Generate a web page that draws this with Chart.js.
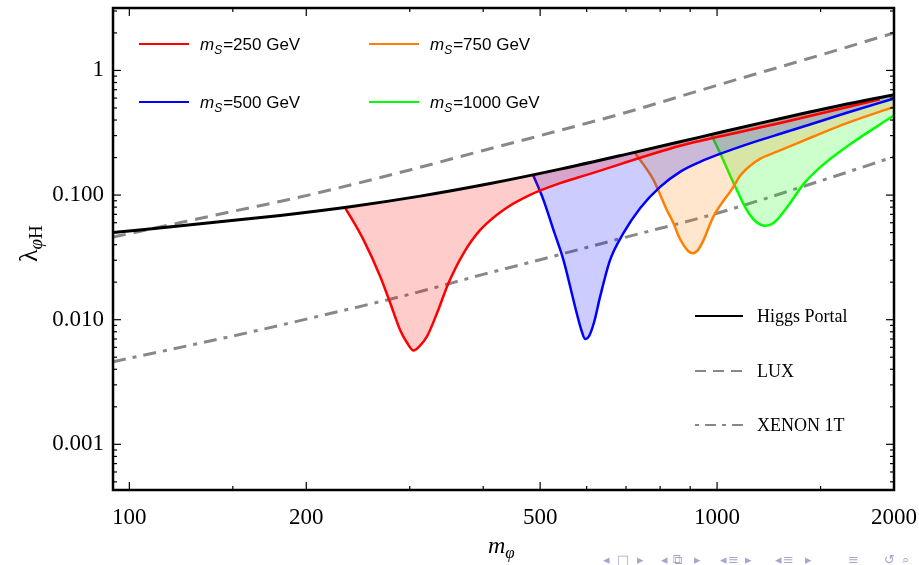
<!DOCTYPE html>
<html>
<head>
<meta charset="utf-8">
<script src="https://cdn.jsdelivr.net/npm/chart.js@4.4.0/dist/chart.umd.min.js"></script>
<style>
  html, body { margin: 0; padding: 0; background: #fff; }
</style>
</head>
<body>
<canvas id="plot" width="919" height="565"></canvas>
<script>
// Higgs portal line
var higgsMass   = [93.8, 132.1, 180.6, 237.6, 312.6, 411.1, 540.8, 711.3, 935.6, 1230.8, 1619, 2000];
var higgsLambda = [0.050, 0.0588, 0.0687, 0.0807, 0.0981, 0.1238, 0.1615, 0.2161, 0.2918, 0.3939, 0.5237, 0.6395];

// direct detection limits
var luxMass     = [93.8, 150, 200, 300, 400, 500, 700, 1000, 1500, 2000];
var luxLambda   = [0.046, 0.074, 0.099, 0.159, 0.228, 0.30, 0.46, 0.76, 1.33, 2.0];
var xenonMass   = [93.8, 150, 200, 300, 400, 500, 700, 1000, 1500, 2000];
var xenonLambda = [0.0046, 0.0074, 0.0101, 0.0160, 0.0231, 0.0303, 0.046, 0.0715, 0.13, 0.203];

// relic density curves, one per m_S
var ms250Mass   = [233, 250.3, 267.3, 277.9, 289, 297, 304.5, 311.3, 320.8, 333.7, 349.1, 370.3, 395.4, 433, 480.8, 540.8, 600.3, 865, 935, 1314, 1893];
var ms250Lambda = [0.079, 0.0437, 0.02215, 0.01362, 0.00822, 0.0065, 0.00566, 0.00609, 0.0073, 0.01125, 0.0196, 0.0341, 0.0525, 0.076, 0.1004, 0.1246, 0.1453, 0.2484, 0.272, 0.3894, 0.587];
var ms500Mass   = [487, 506.5, 526.7, 547.7, 569.6, 578.1, 587.2, 596.4, 605.8, 617.8, 632.4, 657.7, 692.8, 739.6, 800, 865, 935.6, 1012, 1137.9, 1314, 1663, 1995];
var ms500Lambda = [0.143, 0.0915, 0.0525, 0.0302, 0.0144, 0.01091, 0.00834, 0.0070, 0.0074, 0.00958, 0.0153, 0.0302, 0.0494, 0.0785, 0.1164, 0.1536, 0.1848, 0.2143, 0.2602, 0.3219, 0.4573, 0.593];
var ms750Mass   = [725.4, 779.3, 821.3, 843, 858.5, 876.5, 892.8, 909.4, 926.7, 947.9, 965.5, 985.6, 1067, 1094.3, 1137.9, 1183.4, 1230.8, 1279.7, 1459, 1663, 1995];
var ms750Lambda = [0.217, 0.1324, 0.076, 0.0595, 0.0479, 0.0398, 0.0356, 0.0341, 0.036, 0.0433, 0.0535, 0.0672, 0.117, 0.1426, 0.1716, 0.1953, 0.2123, 0.2286, 0.2951, 0.378, 0.508];
var ms1000Mass   = [979.5, 1012, 1067, 1123, 1151.3, 1178.7, 1206.7, 1235.6, 1264.9, 1295, 1331, 1402, 1497, 1663, 1995];
var ms1000Lambda = [0.30, 0.217, 0.1246, 0.076, 0.0644, 0.0587, 0.0568, 0.0582, 0.0632, 0.0726, 0.0861, 0.1219, 0.1669, 0.2453, 0.4327];

// ticks
var xTickLabels = [100, 200, 500, 1000, 2000];
var xMinorTicks = [150, 300, 400, 600, 700, 800, 900, 1500];
var yTickValues = [0.001, 0.01, 0.1, 1];
var yTickText   = ["0.001", "0.010", "0.100", "1"];

function pts(xs, ys) {
  return xs.map(function (v, i) { return { x: v, y: ys[i] }; });
}

var serif = "'Liberation Serif', 'Times New Roman', serif";
var sans = "'Liberation Sans', Arial, sans-serif";

function seg(ctx, x1, y1, x2, y2) {
  ctx.beginPath();
  ctx.moveTo(x1, y1);
  ctx.lineTo(x2, y2);
  ctx.stroke();
}

var decorations = {
  id: "decorations",
  afterDatasetsDraw: function (chart) {
    var ctx = chart.ctx, a = chart.chartArea, xs = chart.scales.x, ys = chart.scales.y;
    ctx.save();
    ctx.strokeStyle = "#000";
    ctx.lineWidth = 1.2;
    ctx.setLineDash([]);

    // inward ticks on all four sides
    xTickLabels.concat(xMinorTicks).forEach(function (v) {
      var px = xs.getPixelForValue(v);
      var len = xTickLabels.indexOf(v) >= 0 ? 8 : 4;
      seg(ctx, px, a.bottom, px, a.bottom - len);
      seg(ctx, px, a.top, px, a.top + len);
    });
    var yMinor = [];
    [0.0001, 0.001, 0.01, 0.1, 1].forEach(function (d) {
      for (var k = 2; k <= 9; k++) {
        var v = d * k;
        if (v > ys.min && v < ys.max) yMinor.push(v);
      }
    });
    yTickValues.concat(yMinor).forEach(function (v) {
      var py = ys.getPixelForValue(v);
      var len = yTickValues.indexOf(v) >= 0 ? 8 : 4;
      seg(ctx, a.left, py, a.left + len, py);
      seg(ctx, a.right, py, a.right - len, py);
    });

    // frame
    ctx.lineWidth = 2.5;
    ctx.strokeRect(a.left, a.top, a.right - a.left, a.bottom - a.top);

    // top legend: m_S curves
    var top = [
      { c: "#ff0000", t: "=250 GeV", x: 139, y: 44 },
      { c: "#ff8000", t: "=750 GeV", x: 369, y: 44 },
      { c: "#0000ff", t: "=500 GeV", x: 139, y: 102 },
      { c: "#00ff00", t: "=1000 GeV", x: 369, y: 102 }
    ];
    ctx.textBaseline = "alphabetic";
    ctx.textAlign = "left";
    top.forEach(function (e) {
      ctx.strokeStyle = e.c;
      ctx.lineWidth = 2;
      seg(ctx, e.x, e.y, e.x + 50, e.y);
      ctx.fillStyle = "#000";
      var tx = e.x + 61, by = e.y + 6;
      ctx.font = "italic 17px " + sans;
      ctx.fillText("m", tx, by);
      tx += ctx.measureText("m").width;
      ctx.font = "italic 12px " + sans;
      ctx.fillText("S", tx, by + 4);
      tx += ctx.measureText("S").width + 1;
      ctx.font = "17px " + sans;
      ctx.fillText(e.t, tx, by);
    });

    // bottom-right legend: limits
    var bottom = [
      { t: "Higgs Portal", c: "#000", w: 2, d: [], y: 316 },
      { t: "LUX", c: "#888", w: 2, d: [11, 7], y: 371 },
      { t: "XENON 1T", c: "#888", w: 2, d: [4, 6, 11, 6], y: 425 }
    ];
    bottom.forEach(function (e) {
      ctx.strokeStyle = e.c;
      ctx.lineWidth = e.w;
      ctx.setLineDash(e.d);
      seg(ctx, 695, e.y, 743, e.y);
      ctx.setLineDash([]);
      ctx.fillStyle = "#000";
      ctx.font = "18px " + serif;
      ctx.fillText(e.t, 757, e.y + 6);
    });

    // axis titles
    ctx.fillStyle = "#000";
    ctx.save();
    ctx.translate(37, 262);
    ctx.rotate(-Math.PI / 2);
    ctx.font = "26px " + serif;
    ctx.fillText("\u03bb", 0, 0);
    var w = ctx.measureText("\u03bb").width;
    ctx.font = "italic 19px " + serif;
    ctx.fillText("\u03c6", w, 5);
    w += ctx.measureText("\u03c6").width;
    ctx.font = "19px " + serif;
    ctx.fillText("H", w, 5);
    ctx.restore();

    ctx.font = "italic 24px " + serif;
    ctx.fillText("m", 488, 553);
    var mw = ctx.measureText("m").width;
    ctx.font = "italic 17px " + serif;
    ctx.fillText("\u03c6", 488 + mw, 558);

    // beamer navigation symbols
    var nav = [["\u25c2", 603], ["\u25a1", 617], ["\u25b8", 637], ["\u25c2", 661], ["\u29c9", 673], ["\u25b8", 694],
               ["\u25c2", 720], ["\u2261", 728], ["\u25b8", 745], ["\u25c2", 775], ["\u2261", 783], ["\u25b8", 805],
               ["\u2261", 848], ["\u21ba", 884], ["\u2315", 902]];
    ctx.fillStyle = "#a6a6cf";
    ctx.font = "13px 'DejaVu Sans', sans-serif";
    nav.forEach(function (n) { ctx.fillText(n[0], n[1], 564); });

    ctx.restore();
  }
};

function curve(label, xs, ys, color, fillColor) {
  return {
    label: label,
    data: pts(xs, ys),
    borderColor: color,
    backgroundColor: fillColor,
    borderWidth: 2.5,
    fill: fillColor ? 0 : false,
    cubicInterpolationMode: "monotone",
    pointRadius: 0
  };
}

var ctx = document.getElementById("plot").getContext("2d");
var lux = curve("LUX", luxMass, luxLambda, "#888888", null);
lux.borderDash = [13, 8];
lux.borderWidth = 3;
var xenon = curve("XENON 1T", xenonMass, xenonLambda, "#888888", null);
xenon.borderDash = [13, 7, 4, 7];
xenon.borderWidth = 3;
var higgs = curve("Higgs Portal", higgsMass, higgsLambda, "#000000", null);
higgs.borderWidth = 3;

new Chart(ctx, {
  type: "line",
  data: {
    datasets: [
      higgs,
      curve("mS=250 GeV", ms250Mass, ms250Lambda, "#ff0000", "rgba(255,0,0,0.2)"),
      curve("mS=500 GeV", ms500Mass, ms500Lambda, "#0000ff", "rgba(0,0,255,0.2)"),
      curve("mS=750 GeV", ms750Mass, ms750Lambda, "#ff8000", "rgba(255,128,0,0.2)"),
      curve("mS=1000 GeV", ms1000Mass, ms1000Lambda, "#00ff00", "rgba(0,255,0,0.2)"),
      lux,
      xenon
    ]
  },
  options: {
    responsive: false,
    animation: false,
    layout: { padding: { left: 0, right: 25, top: 8, bottom: 0 } },
    plugins: {
      legend: { display: false },
      tooltip: { enabled: false },
      filler: { propagate: false }
    },
    scales: {
      x: {
        type: "logarithmic",
        min: 93.8,
        max: 2000,
        grid: { display: false, drawTicks: false },
        border: { display: false },
        afterBuildTicks: function (s) {
          s.ticks = xTickLabels.map(function (v) { return { value: v }; });
        },
        afterFit: function (s) {
          s.height = 75;
          s.paddingLeft = 0;
          s.paddingRight = 0;
        },
        ticks: {
          autoSkip: false,
          maxRotation: 0,
          padding: 14,
          color: "#000",
          font: { family: serif, size: 23 },
          callback: function (v) { return String(v); }
        }
      },
      y: {
        type: "logarithmic",
        min: 0.00043,
        max: 3.17,
        grid: { display: false, drawTicks: false },
        border: { display: false },
        afterBuildTicks: function (s) {
          s.ticks = yTickValues.map(function (v) { return { value: v }; });
        },
        afterFit: function (s) {
          s.width = 113;
          s.paddingTop = 0;
          s.paddingBottom = 0;
        },
        ticks: {
          autoSkip: false,
          padding: 9,
          color: "#000",
          font: { family: serif, size: 23 },
          callback: function (v, i) { return yTickText[i]; }
        }
      }
    }
  },
  plugins: [decorations]
});
</script>
</body>
</html>
